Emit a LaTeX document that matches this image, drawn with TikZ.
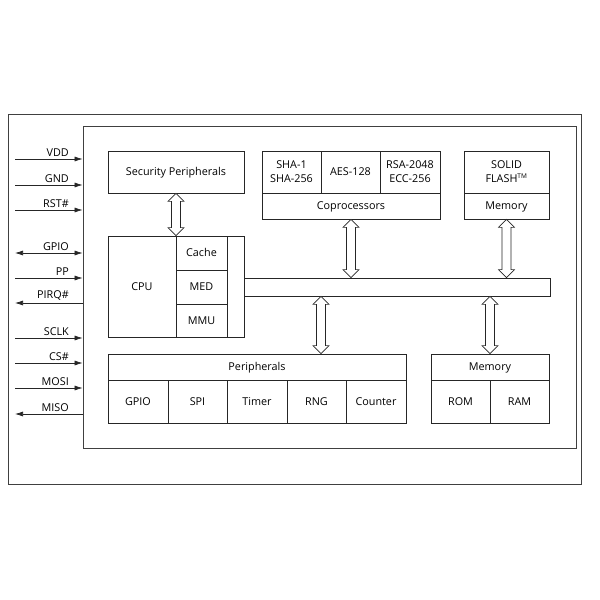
\documentclass[tikz,border=0pt]{standalone}
\usepackage{fontspec}
\setmainfont{Open Sans}
\usetikzlibrary{arrows.meta,calc}
\newcommand\hollowarrow[2]{%
  \draw[hollow] let \p1=#1, \p2=#2 in
    (\x1,\y1) -- (\x1+8pt,\y1-8pt) -- (\x1+4.5pt,\y1-8pt) -- (\x1+4.5pt,\y2+8pt)
    -- (\x1+8pt,\y2+8pt) -- (\x1,\y2) -- (\x1-8pt,\y2+8pt) -- (\x1-4.5pt,\y2+8pt)
    -- (\x1-4.5pt,\y1-8pt) -- (\x1-8pt,\y1-8pt) -- cycle;}
\begin{document}
\begin{tikzpicture}[x=1pt,y=-1pt,
  font=\fontsize{10.8pt}{14pt}\selectfont,
  frame/.style={draw=black!75,line width=0.8pt},
  box/.style={draw=black!85,line width=0.7pt,inner sep=0pt,align=center,fill=white},
  one/.style={text height=7.7pt,text depth=0pt},
  pin/.style={draw=black!85,line width=0.7pt},
  pintip/.style={-{Latex[length=8pt,width=5pt]}},
  bitip/.style={{Latex[length=8pt,width=5pt]}-{Latex[length=8pt,width=5pt]}},
  pinlab/.style={anchor=south east,inner sep=1pt},
  hollow/.style={line width=0.6pt,draw=black!85,fill=white,line join=miter},
]
\useasboundingbox[fill=white] (0,0) rectangle (600,600);
% frames
\node[frame,minimum width=573,minimum height=370,inner sep=0pt] (outer) at (294.5,299) {};
\node[frame,minimum width=493,minimum height=322,inner sep=0pt] (inner) at (329.5,287) {};
% security peripherals
\node[box,one,minimum width=136,minimum height=42] (sec) at (176,172) {Security Peripherals};
% coprocessors
\node[box,minimum width=59,minimum height=42] (sha) at (291.5,172) {SHA-1\\SHA-256};
\node[box,one,minimum width=59,minimum height=42] (aes) at (350.5,172) {AES-128};
\node[box,minimum width=60,minimum height=42] (rsa) at (410,172) {RSA-2048\\ECC-256};
\node[box,one,minimum width=178,minimum height=26] (cop) at (351,206) {Coprocessors};
% solid flash
\node[box,minimum width=85,minimum height=42] (flash) at (506.5,172) {SOLID\\FLASH\textsuperscript{\fontsize{6.5pt}{6.5pt}\selectfont TM}};
\node[box,one,minimum width=85,minimum height=26] (fmem) at (506.5,206) {Memory};
% cpu
\node[box,one,minimum width=68,minimum height=101] (cpu) at (142,286.5) {CPU};
\node[box,one,minimum width=51,minimum height=34] (cache) at (201.5,253) {Cache};
\node[box,one,minimum width=51,minimum height=34] (med) at (201.5,287) {MED};
\node[box,one,minimum width=51,minimum height=33] (mmu) at (201.5,320.5) {MMU};
\node[box,minimum width=17,minimum height=101] (strip) at (235.5,286.5) {};
% bus
\node[box,minimum width=306,minimum height=18] (bus) at (397,287) {};
% peripherals
\node[box,one,minimum width=298,minimum height=26] (per) at (257,367) {Peripherals};
\node[box,one,minimum width=60,minimum height=43] (pgpio) at (138,401.5) {GPIO};
\node[box,one,minimum width=59,minimum height=43] (pspi) at (197.5,401.5) {SPI};
\node[box,one,minimum width=60,minimum height=43] (ptimer) at (257,401.5) {Timer};
\node[box,one,minimum width=59,minimum height=43] (prng) at (316.5,401.5) {RNG};
\node[box,one,minimum width=60,minimum height=43] (pcnt) at (376,401.5) {Counter};
% memory
\node[box,one,minimum width=118,minimum height=26] (mem) at (490,367) {Memory};
\node[box,one,minimum width=59,minimum height=43] (rom) at (460.5,401.5) {ROM};
\node[box,one,minimum width=59,minimum height=43] (ram) at (519.5,401.5) {RAM};
% hollow arrows
\hollowarrow{(sec.south)}{(cache.north -| sec.south)}
\hollowarrow{(cop.south)}{(bus.north -| cop.south)}
\hollowarrow{(fmem.south)}{(bus.north -| fmem.south)}
\coordinate (a1) at (321,380);
\hollowarrow{(bus.south -| a1)}{(per.north -| a1)}
\hollowarrow{(bus.south -| mem.north)}{(mem.north)}
% pin labels
\foreach \n/\y in {VDD/159,GND/185,RST\#/210,GPIO/253,PP/278,PIRQ\#/303,SCLK/338,CS\#/363,MOSI/388,MISO/414}{
  \node[pinlab] at (70,\y-1) {\n};
}
% pins
\draw[pin,pintip] (15,159) coordinate (p1) -- (p1 -| inner.west);
\draw[pin,pintip] (15,185) coordinate (p2) -- (p2 -| inner.west);
\draw[pin,pintip] (15,210) coordinate (p3) -- (p3 -| inner.west);
\draw[pin,bitip] (15,253) coordinate (p4) -- (p4 -| inner.west);
\draw[pin,pintip] (15,278) coordinate (p5) -- (p5 -| inner.west);
\draw[pin,pintip] (inner.west |- 0,303) coordinate (p6) -- (15,303);
\draw[pin,pintip] (15,338) coordinate (p7) -- (p7 -| inner.west);
\draw[pin,pintip] (15,363) coordinate (p8) -- (p8 -| inner.west);
\draw[pin,pintip] (15,388) coordinate (p9) -- (p9 -| inner.west);
\draw[pin,pintip] (inner.west |- 0,414) coordinate (p10) -- (15,414);
\end{tikzpicture}
\end{document}
